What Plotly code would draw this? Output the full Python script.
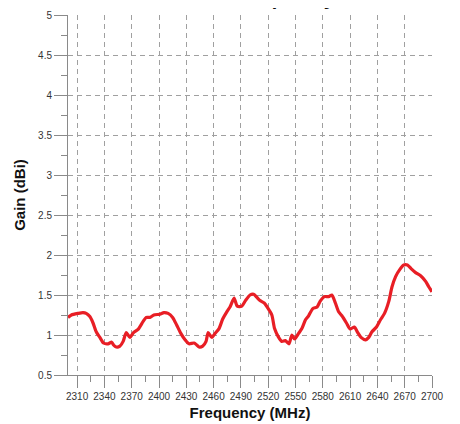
import plotly.graph_objects as go

freq = [2300, 2303.7, 2311, 2316.5, 2320, 2324, 2327.5, 2331, 2335, 2339, 2344, 2348, 2350, 2353, 2357,
        2360.6, 2364, 2368, 2372, 2377, 2382.6, 2386, 2390, 2394.4, 2401, 2405.4, 2410, 2415, 2419.4,
        2424, 2428.6, 2433, 2438.5, 2441.5, 2444, 2448, 2451.7, 2454, 2458, 2461.6, 2466, 2470, 2474.5,
        2478, 2482.5, 2486, 2491, 2495, 2500, 2504, 2507.6, 2511, 2515.6, 2520, 2524, 2527, 2531, 2535,
        2538.7, 2542.8, 2546, 2549, 2553.4, 2557, 2561, 2564.4, 2569, 2573.7, 2577, 2581.7, 2586.4, 2590,
        2593.8, 2597.4, 2601, 2606, 2610, 2614.7, 2618.4, 2622, 2627, 2630.5, 2634, 2639, 2643.4, 2647.8,
        2652.5, 2656, 2660, 2664.7, 2669, 2673, 2677, 2682, 2687.5, 2693, 2696.6, 2700]
gain = [1.22, 1.25, 1.27, 1.28, 1.27, 1.23, 1.15, 1.04, 0.97, 0.90, 0.89, 0.91, 0.875, 0.85, 0.86,
        0.92, 1.03, 0.97, 1.03, 1.07, 1.17, 1.22, 1.22, 1.25, 1.26, 1.28, 1.27, 1.22, 1.125,
        1.02, 0.94, 0.89, 0.90, 0.875, 0.85, 0.86, 0.92, 1.03, 0.97, 1.02, 1.08, 1.20, 1.29,
        1.35, 1.46, 1.36, 1.36, 1.43, 1.50, 1.51, 1.47, 1.43, 1.40, 1.33, 1.25, 1.08, 0.98, 0.92,
        0.93, 0.89, 1.00, 0.95, 1.02, 1.08, 1.19, 1.24, 1.33, 1.35, 1.42, 1.48, 1.48, 1.50,
        1.40, 1.29, 1.24, 1.15, 1.075, 1.10, 1.03, 0.97, 0.94, 0.97, 1.04, 1.10, 1.19, 1.27,
        1.42, 1.60, 1.73, 1.82, 1.875, 1.875, 1.83, 1.78, 1.74, 1.67, 1.60, 1.54]

x_ticks = list(range(2310, 2701, 30))
x_ticklabels = [str(v) for v in x_ticks]
y_ticks = [0.5, 1, 1.5, 2, 2.5, 3, 3.5, 4, 4.5, 5]
y_ticklabels = ["0.5", "1", "1.5", "2", "2.5", "3", "3.5", "4", "4.5", "5"]

title_text = "Gain vs Frequency"
x_title = "Frequency (MHz)"
y_title = "Gain (dBi)"

FONT = "Arial, Liberation Sans, sans-serif"
AXIS = "#8a8a8a"
GRID = "#a0a0a0"

fig = go.Figure()
fig.add_trace(go.Scatter(
    x=freq, y=gain, mode="lines",
    line=dict(color="rgb(232,30,37)", width=3.2, shape="spline", smoothing=0.6),
    showlegend=False, hoverinfo="skip",
))

fig.update_layout(
    width=460, height=424,
    margin=dict(l=60, r=36, t=7, b=57, autoexpand=False),
    paper_bgcolor="white", plot_bgcolor="white",
    font=dict(family=FONT, size=10, color="#333333"),
    showlegend=False,
)

fig.update_xaxes(
    range=[2300, 2700], tickmode="array", tickvals=x_ticks, ticktext=x_ticklabels,
    ticks="outside", ticklen=12, tickwidth=1, tickcolor=AXIS,
    showline=True, linecolor=AXIS, linewidth=1,
    showgrid=True, gridcolor=GRID, gridwidth=1, griddash="5px,4px",
    zeroline=False, automargin=False,
    minor=dict(tickmode="linear", tick0=2310, dtick=15, ticks="outside", ticklen=6,
               tickcolor=AXIS, showgrid=False),
    tickfont=dict(size=10, color="#333333"),
    title=dict(text="<b>" + x_title + "</b>", font=dict(size=15, color="#111111"), standoff=6),
)
fig.update_yaxes(
    range=[0.5, 5], tickmode="array", tickvals=y_ticks, ticktext=y_ticklabels,
    ticks="outside", ticklen=13, tickwidth=1, tickcolor=AXIS,
    showline=True, linecolor=AXIS, linewidth=1,
    showgrid=True, gridcolor=GRID, gridwidth=1, griddash="5px,4px",
    zeroline=False, automargin=False,
    minor=dict(tickmode="linear", tick0=0.5, dtick=0.25, ticks="outside", ticklen=6,
               tickcolor=AXIS, showgrid=False),
    tickfont=dict(size=10, color="#333333"),
    title=dict(text="<b>" + y_title + "</b>", font=dict(size=15, color="#111111"), standoff=8),
)

fig.add_annotation(
    text="<b>" + title_text + "</b>", xref="paper", yref="paper",
    x=0.49, y=1.0, yshift=4, xanchor="center", yanchor="bottom", showarrow=False,
    font=dict(family=FONT, size=20, color="#111111"),
)

fig.write_html("out.html")
